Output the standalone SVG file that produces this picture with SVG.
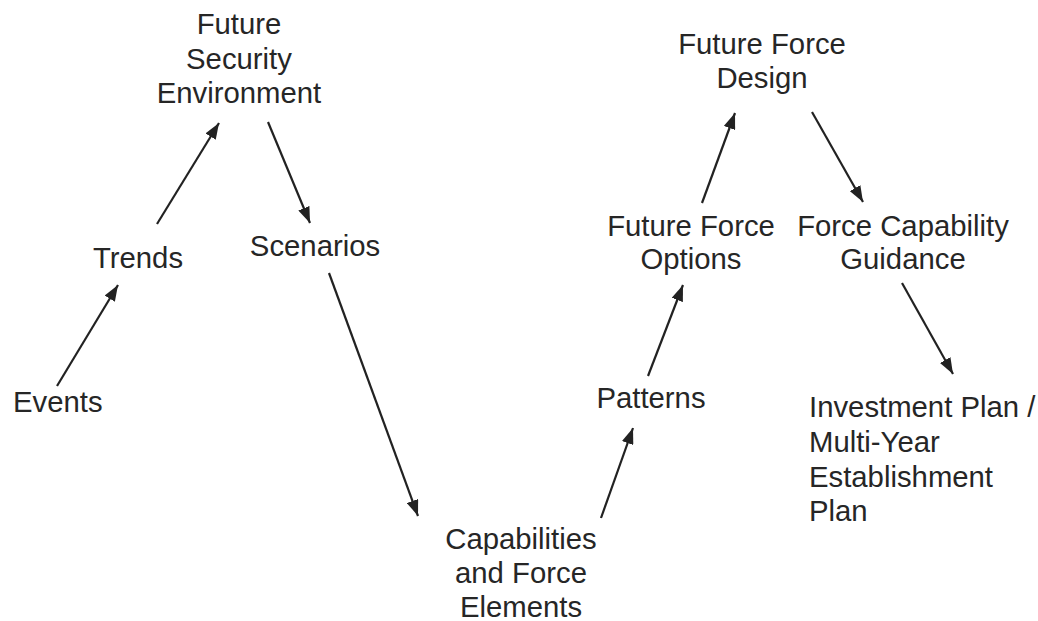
<svg xmlns="http://www.w3.org/2000/svg" width="1038" height="621" viewBox="0 0 1038 621">
<style>
text{font-family:"Liberation Sans",Arial,sans-serif;font-size:29.3px;fill:#262626}
.c{text-anchor:middle}
.e line{stroke:#222;stroke-width:2.2;fill:none}
</style>
<defs>
<marker id="ah" viewBox="0 0 16 12" refX="16" refY="6" markerWidth="16" markerHeight="12" markerUnits="userSpaceOnUse" orient="auto">
<path d="M0,0 L16,6 L0,12 Z" fill="#222"/>
</marker>
</defs>
<rect width="1038" height="621" fill="#fff"/>
<g id="fse" class="c"><text x="239" y="34">Future</text><text x="239" y="68.5">Security</text><text x="239" y="103">Environment</text></g>
<g id="trends"><text class="c" x="138" y="268">Trends</text></g>
<g id="scenarios"><text class="c" x="315" y="256">Scenarios</text></g>
<g id="events"><text x="13" y="412">Events</text></g>
<g id="cap" class="c"><text x="521" y="549">Capabilities</text><text x="521" y="583">and Force</text><text x="521" y="617">Elements</text></g>
<g id="patterns"><text class="c" x="651" y="408">Patterns</text></g>
<g id="ffo" class="c"><text x="691" y="236">Future Force</text><text x="691" y="269">Options</text></g>
<g id="fcg" class="c"><text x="903" y="236">Force Capability</text><text x="903" y="269">Guidance</text></g>
<g id="ffd" class="c"><text x="762" y="54">Future Force</text><text x="762" y="88">Design</text></g>
<g id="inv"><text x="809" y="417">Investment Plan /</text><text x="809" y="452">Multi-Year</text><text x="809" y="486.5">Establishment</text><text x="809" y="521">Plan</text></g>
<g id="connectors" class="e">
<line x1="57" y1="386" x2="118" y2="285" marker-end="url(#ah)"/>
<line x1="157" y1="224" x2="219" y2="123" marker-end="url(#ah)"/>
<line x1="268" y1="122" x2="310" y2="223" marker-end="url(#ah)"/>
<line x1="329" y1="273" x2="418" y2="516" marker-end="url(#ah)"/>
<line x1="601" y1="518" x2="633" y2="428" marker-end="url(#ah)"/>
<line x1="648" y1="376" x2="683" y2="285" marker-end="url(#ah)"/>
<line x1="702" y1="203" x2="735" y2="113" marker-end="url(#ah)"/>
<line x1="812" y1="112" x2="863" y2="202" marker-end="url(#ah)"/>
<line x1="902" y1="283" x2="953" y2="374" marker-end="url(#ah)"/>
</g>
</svg>
